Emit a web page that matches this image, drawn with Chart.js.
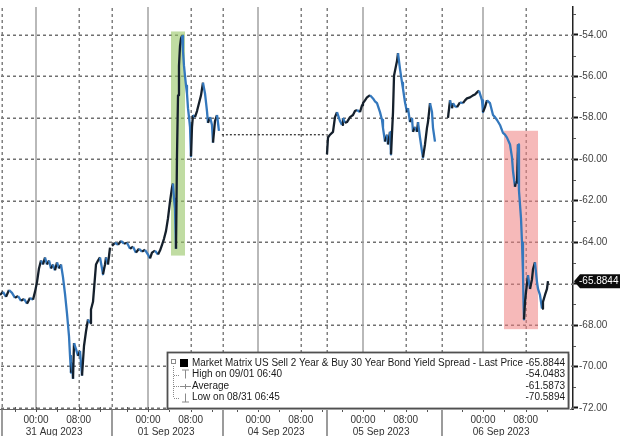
<!DOCTYPE html>
<html>
<head>
<meta charset="utf-8">
<script src="https://cdn.jsdelivr.net/npm/chart.js@4.4.0/dist/chart.umd.min.js"></script>
<style>
  html, body { margin: 0; padding: 0; background: #fff; }
  #chart { display: block; }
</style>
</head>
<body>
<canvas id="chart" width="620" height="436"></canvas>
<script>
// x values are hours along the compressed trading-session axis
const aug31Hours = [0, 0.56, 1.13, 1.69, 2.25, 2.81, 3.38, 3.94, 4.5, 5.06, 5.63, 6.19, 6.56, 6.94, 7.31, 7.69, 8.06, 8.44, 8.81, 9.19,
  9.56, 9.94, 10.31, 10.69, 11.06, 11.44, 11.81, 12.19, 12.56, 12.94, 13.13, 13.31, 13.5, 13.69, 13.88, 14.25, 14.63, 15, 15.38, 15.75,
  16.13, 16.5, 16.88, 17.06, 17.44, 17.81, 18, 18.38, 18.75, 19.13, 19.31, 19.69, 19.88, 20.25, 20.63];
const aug31Values = [-66.55, -66.40, -66.64, -66.31, -66.45, -66.69, -66.60, -66.83, -66.74, -66.97, -66.69, -66.78, -66.40, -65.93, -65.27, -64.89, -65.08, -64.74, -65.08, -64.89,
  -65.27, -65.08, -65.36, -64.98, -65.27, -65.08, -65.69, -66.50, -67.44, -68.54, -69.49, -70.30, -69.82, -70.59, -68.87, -69.16, -69.49, -69.25, -70.44, -69.01,
  -68.30, -67.73, -67.91, -67.25, -66.88, -65.69, -65.08, -64.89, -64.74, -65.27, -65.55, -65.08, -64.74, -65.08, -64.27];

const sep01Hours = [21, 21.56, 22.13, 22.69, 23.25, 23.81, 24.38, 24.94, 25.5, 26.06, 26.63, 27.19, 27.75, 28.13, 28.5, 29.06, 29.63, 30, 30.38, 30.75,
  31.13, 31.5, 31.88, 32.25, 32.44, 32.63, 32.81, 33, 33.19, 33.38, 33.56, 33.75, 33.94, 34.13, 34.31, 34.5, 34.69, 34.88, 35.06, 35.25,
  35.44, 35.63, 35.81, 36, 36.19, 36.56, 36.94, 37.31, 37.69, 38.06, 38.44, 38.81, 39, 39.38, 39.75, 39.94, 40.31, 40.69, 41.06];
const sep01Values = [-64.18, -64.03, -64.13, -63.94, -64.08, -64.03, -64.32, -64.22, -64.51, -64.32, -64.46, -64.37, -64.60, -64.79, -64.51, -64.41, -64.60, -64.41, -64.13, -63.84,
  -63.46, -62.85, -62.04, -61.37, -61.18, -61.90, -62.37, -64.32, -59.77, -56.92, -55.50, -54.55, -54.18, -54.05, -54.79, -55.50, -55.98, -56.45, -56.83, -57.54,
  -57.97, -58.44, -59.86, -58.44, -57.87, -57.97, -57.68, -57.30, -56.92, -56.31, -56.83, -57.68, -58.25, -57.97, -58.35, -59.20, -58.16, -57.87, -58.63];

// 04 Sep: no trading, last level carried across
const holidayHours = [41.6, 61.2];
const holidayValues = [-58.82, -58.82];

const sep05Hours = [61.31, 61.5, 61.88, 62.44, 62.81, 63.19, 63.38, 63.75, 64.13, 64.31, 64.69, 65.06, 65.63, 66.19, 66.56, 66.94, 67.5, 67.88, 68.06, 68.44,
  68.81, 69.38, 69.94, 70.31, 70.69, 71.25, 71.63, 71.81, 72.19, 72.56, 72.75, 73.13, 73.31, 73.69, 73.88, 74.25, 74.44, 74.63, 75, 75.38,
  75.56, 75.94, 76.31, 76.5, 76.88, 77.25, 77.44, 77.81, 78.19, 78.38, 78.75, 79.13, 79.31, 79.69, 80.06, 80.25, 80.63, 81, 81.19, 81.56];
const sep05Values = [-59.77, -58.96, -58.82, -58.68, -57.97, -57.73, -57.87, -58.16, -58.35, -58.01, -58.25, -58.21, -57.97, -57.87, -57.68, -57.63, -57.73, -57.40, -57.30, -57.16,
  -57.02, -56.92, -57.07, -57.21, -57.30, -57.73, -58.11, -58.49, -59.15, -58.82, -59.29, -58.68, -59.77, -57.73, -55.98, -55.50, -55.27, -54.89, -55.64, -56.31,
  -56.59, -57.26, -57.73, -57.54, -58.21, -58.01, -58.68, -58.44, -58.68, -58.21, -58.96, -59.63, -59.91, -59.29, -58.49, -58.21, -57.30, -57.73, -58.49, -59.15];

const sep06Hours = [84, 84.38, 84.75, 84.94, 85.31, 85.69, 86.25, 86.81, 87.19, 87.56, 88.13, 88.69, 89.06, 89.44, 89.81, 90.38, 90.56, 90.94, 91.31, 91.88,
  92.44, 92.81, 93.19, 93.75, 94.31, 94.69, 95.06, 95.63, 96, 96.19, 96.56, 96.75, 96.94, 97.13, 97.31, 97.69, 97.88, 98.06, 98.16, 98.25,
  98.44, 98.63, 99, 99.38, 99.75, 99.94, 100.31, 100.69, 100.88, 101.25, 101.63, 101.81, 102.19, 102.56, 102.75];
const sep06Values = [-58.01, -57.16, -57.54, -57.30, -57.45, -57.49, -57.26, -57.30, -57.16, -57.07, -57.02, -56.92, -56.88, -56.78, -56.69, -57.16, -57.73, -57.49, -57.16, -57.30,
  -57.87, -57.97, -58.11, -58.35, -58.73, -58.82, -58.96, -59.29, -59.91, -60.57, -61.33, -61.09, -61.18, -59.29, -61.52, -62.85, -64.03, -65.45, -66.88, -67.73,
  -66.88, -66.40, -65.60, -66.26, -65.79, -65.31, -64.98, -65.93, -66.26, -66.55, -67.21, -66.88, -66.55, -66.26, -65.8844];

// axis layout (hours on the compressed axis)
const dayLabels = ["31 Aug 2023", "01 Sep 2023", "04 Sep 2023", "05 Sep 2023", "06 Sep 2023"];
const midnightHours = [6.75, 27.75, 48.38, 68.06, 90.56];
const dayBreakHours = [0.38, 21, 41.81, 61.31, 82.88];
const timeLabels = ["00:00", "08:00"];

// highlighted windows: [start hour, end hour], [top value, bottom value]
const highWindowHours = [32.06, 34.69];
const highWindowValues = [-53.84, -64.65];
const lowWindowHours = [94.5, 100.88];
const lowWindowValues = [-58.63, -68.2];

const legendTitle = "Market Matrix US Sell 2 Year & Buy 30 Year Bond Yield Spread - Last Price";
const legendRows = ["High on 09/01 06:40", "Average", "Low on 08/31 06:45"];
const legendValues = [-65.8844, -54.0483, -61.5873, -70.5894];
const lastPrice = -65.8844;

const sessions = [
  [aug31Hours, aug31Values],
  [sep01Hours, sep01Values],
  [sep05Hours, sep05Values],
  [sep06Hours, sep06Values],
];

const spreadPoints = [];
sessions.forEach(([hours, values], i) => {
  if (i > 0) spreadPoints.push({ x: hours[0] - 0.05, y: null });
  hours.forEach((h, j) => spreadPoints.push({ x: h, y: values[j] }));
});

const xTicks = [];
midnightHours.forEach((m, d) => {
  xTicks.push({ value: m, label: [timeLabels[0], ""] });
  xTicks.push({ value: m + 3.4, label: ["", dayLabels[d]] });
  xTicks.push({ value: m + 8, label: [timeLabels[1], ""] });
});

const UP = "#15202c";
const DOWN = "#3478bd";

function strokeLine(ctx, x1, y1, x2, y2) {
  ctx.beginPath();
  ctx.moveTo(x1, y1);
  ctx.lineTo(x2, y2);
  ctx.stroke();
}

// dotted grid line made of small dashes
function dotsH(ctx, x1, x2, py) {
  for (let px = x1 + 1; px < x2; px += 6) ctx.fillRect(px, py - 0.5, 3, 1.5);
}
function dotsV(ctx, px, y1, y2) {
  for (let py = y1 + 1; py < y2; py += 6) ctx.fillRect(px - 0.5, py, 1.5, 3);
}

const bloombergDecor = {
  id: "bloombergDecor",
  beforeDatasetsDraw(chart) {
    const { ctx, chartArea: a, scales: { x, y } } = chart;
    ctx.save();

    // dotted horizontal grid
    ctx.fillStyle = "#707070";
    y.ticks.forEach((t) => {
      dotsH(ctx, a.left, a.right, Math.round(y.getPixelForValue(t.value)));
    });

    // dotted verticals at session breaks and 08:00
    ctx.fillStyle = "#808080";
    dayBreakHours.concat(midnightHours.map((m) => m + 8)).forEach((h) => {
      dotsV(ctx, Math.round(x.getPixelForValue(h)), a.top, a.bottom);
    });

    // solid verticals at midnight
    ctx.strokeStyle = "#a2a2a2";
    ctx.lineWidth = 1.5;
    midnightHours.forEach((h) => {
      const px = Math.round(x.getPixelForValue(h));
      strokeLine(ctx, px, a.top, px, a.bottom);
    });

    // highlighted windows
    const box = (hours, values, color) => {
      const x1 = x.getPixelForValue(hours[0]);
      const x2 = x.getPixelForValue(hours[1]);
      const y1 = y.getPixelForValue(values[0]);
      const y2 = y.getPixelForValue(values[1]);
      ctx.fillStyle = color;
      ctx.fillRect(x1, y1, x2 - x1, y2 - y1);
    };
    box(highWindowHours, highWindowValues, "rgba(150, 196, 100, 0.6)");
    box(lowWindowHours, lowWindowValues, "rgba(238, 128, 128, 0.55)");
    ctx.restore();
  },
  afterDraw(chart) {
    const { ctx, chartArea: a, scales: { x, y } } = chart;
    ctx.save();

    // session separators under the axis
    ctx.strokeStyle = "#7a7a7a";
    ctx.lineWidth = 1.5;
    dayBreakHours.forEach((h) => {
      const px = Math.round(x.getPixelForValue(h));
      strokeLine(ctx, px, a.bottom, px, chart.height);
    });

    // minor ticks on the time axis
    ctx.strokeStyle = "#555";
    ctx.lineWidth = 1;
    midnightHours.forEach((m) => {
      [-4, 0, 4, 8, 12].forEach((o) => {
        const px = Math.round(x.getPixelForValue(m + o)) + 0.5;
        strokeLine(ctx, px, a.bottom - 2, px, a.bottom + 3);
      });
    });

    // minor ticks on the value axis
    for (let v = -53; v >= -71; v -= 2) {
      const py = Math.round(y.getPixelForValue(v)) + 0.5;
      strokeLine(ctx, a.right, py, a.right + 3, py);
    }

    // last price tag
    const ty = y.getPixelForValue(lastPrice);
    ctx.fillStyle = "#0c0c0c";
    ctx.beginPath();
    ctx.moveTo(a.right + 1, ty);
    ctx.lineTo(a.right + 7, ty - 7);
    ctx.lineTo(chart.width, ty - 7);
    ctx.lineTo(chart.width, ty + 7);
    ctx.lineTo(a.right + 7, ty + 7);
    ctx.closePath();
    ctx.fill();
    ctx.fillStyle = "#fff";
    ctx.font = "10px 'Liberation Sans', Arial, sans-serif";
    ctx.textBaseline = "middle";
    ctx.textAlign = "left";
    ctx.fillText(lastPrice.toFixed(4), a.right + 6, ty + 0.5, chart.width - a.right - 7);

    // legend box
    const lx = 167, ly = 352, lw = 401, lh = 56;
    ctx.fillStyle = "#d8d8d8";
    ctx.fillRect(lx + 2, ly + 2, lw, lh);
    ctx.fillStyle = "#fff";
    ctx.fillRect(lx, ly, lw, lh);
    ctx.strokeStyle = "#505050";
    ctx.lineWidth = 1.8;
    ctx.strokeRect(lx + 0.5, ly + 0.5, lw, lh);

    const rowY = [363, 374.5, 386, 397.5];
    // tree connector
    ctx.fillStyle = "#8a8a8a";
    for (let ty2 = rowY[0] + 3; ty2 < rowY[3]; ty2 += 2) ctx.fillRect(173, ty2, 1, 1);
    rowY.slice(1).forEach((ry) => {
      for (let tx = 174; tx < 179; tx += 2) ctx.fillRect(tx, Math.round(ry), 1, 1);
    });
    ctx.strokeStyle = "#8a8a8a";
    ctx.lineWidth = 1;
    ctx.strokeRect(171.5, rowY[0] - 3.5, 4, 4);
    // series swatch
    ctx.fillStyle = "#000";
    ctx.fillRect(180, rowY[0] - 4, 8, 8);
    // high / average / low markers
    ctx.strokeStyle = "#8a8a8a";
    strokeLine(ctx, 182, rowY[1] - 4.5, 189, rowY[1] - 4.5);
    strokeLine(ctx, 185.5, rowY[1] - 4.5, 185.5, rowY[1] + 4);
    strokeLine(ctx, 180, rowY[2] + 0.5, 191, rowY[2] + 0.5);
    strokeLine(ctx, 185.5, rowY[2] - 2, 185.5, rowY[2] + 3);
    strokeLine(ctx, 185.5, rowY[3] - 4, 185.5, rowY[3] + 4.5);
    strokeLine(ctx, 182, rowY[3] + 4.5, 189, rowY[3] + 4.5);

    ctx.font = "10px 'Liberation Sans', Arial, sans-serif";
    ctx.textBaseline = "middle";
    ctx.fillStyle = "#1a1a1a";
    ctx.textAlign = "left";
    ctx.fillText(legendTitle, 192, rowY[0], 331);
    legendRows.forEach((r, i) => ctx.fillText(r, 192, rowY[i + 1]));
    ctx.textAlign = "right";
    legendValues.forEach((v, i) => ctx.fillText(v.toFixed(4), 565, rowY[i]));
    ctx.restore();
  },
};

Chart.defaults.font.family = "'Liberation Sans', Arial, sans-serif";

new Chart(document.getElementById("chart"), {
  type: "line",
  data: {
    datasets: [
      {
        data: spreadPoints,
        borderWidth: 2.3,
        borderColor: UP,
        pointRadius: 0,
        spanGaps: false,
        tension: 0,
        borderJoinStyle: "round",
        segment: {
          borderColor: (c) => (c.p1.parsed.y < c.p0.parsed.y ? DOWN : UP),
        },
      },
      {
        data: holidayHours.map((h, i) => ({ x: h, y: holidayValues[i] })),
        borderWidth: 1.3,
        borderColor: "#333",
        borderDash: [2, 2],
        pointRadius: 0,
      },
    ],
  },
  options: {
    responsive: false,
    animation: false,
    devicePixelRatio: 1,
    layout: { padding: 0 },
    plugins: { legend: { display: false }, tooltip: { enabled: false } },
    scales: {
      x: {
        type: "linear",
        min: 0,
        max: 107.44,
        afterBuildTicks: (scale) => {
          scale.ticks = xTicks.map((t) => ({ value: t.value }));
        },
        afterFit: (scale) => {
          scale.height = 27;
        },
        ticks: {
          autoSkip: false,
          maxRotation: 0,
          padding: 5,
          color: "#333",
          font: { size: 10, lineHeight: 1.2 },
          callback: (v, i) => xTicks[i].label,
        },
        grid: { drawOnChartArea: false, drawTicks: false },
        border: { color: "#666", width: 1 },
      },
      y: {
        position: "right",
        min: -72.05,
        max: -52.66,
        afterFit: (scale) => {
          scale.width = 47;
        },
        ticks: {
          stepSize: 2,
          includeBounds: false,
          padding: 1,
          color: "#444",
          font: { size: 10 },
          callback: (v) => v.toFixed(2),
        },
        grid: { drawOnChartArea: false, tickLength: 5, tickWidth: 2, tickColor: "#111" },
        border: { color: "#222", width: 1.5 },
      },
    },
  },
  plugins: [bloombergDecor],
});
</script>
</body>
</html>
